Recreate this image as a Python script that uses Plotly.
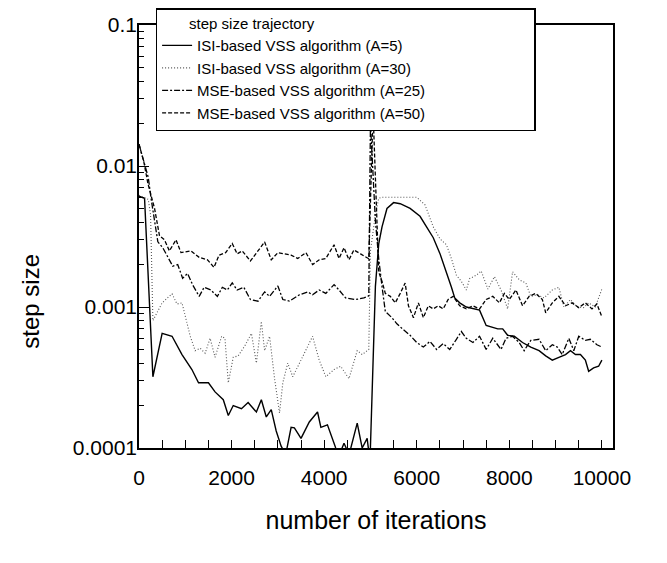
import plotly.graph_objects as go

# ---------------- data ----------------
isi5_x = [0, 120, 300, 500, 714, 929, 1143, 1286, 1500, 1643, 1821, 1929, 2036, 2214, 2357,
          2536, 2643, 2750, 2857, 2964, 3071, 3170, 3286, 3357, 3500, 3679, 3857, 3929, 4071,
          4250, 4330, 4429, 4540, 4714, 4821, 4929, 4990, 5107, 5179, 5250, 5357, 5500, 5643,
          5857, 6071, 6214, 6357, 6500, 6643, 6750, 6821, 6929, 7071, 7214, 7357, 7500, 7643,
          7750, 7857, 7964, 8107, 8286, 8464, 8643, 8786, 8929, 9071, 9214, 9321, 9429, 9536,
          9643, 9714, 9821, 9929, 10000]
isi5_y = [0.0061, 0.0059, 0.00032, 0.00065, 0.00062, 0.00046, 0.00036, 0.00029, 0.00029, 0.00025,
          0.00022, 0.00017, 0.0002, 0.00019, 0.00021, 0.00018, 0.00022, 0.000166, 0.000187,
          0.000132, 0.000103, 0.00009, 0.00014, 0.000139, 0.000117, 0.000153, 0.00018, 0.00014,
          0.000146, 0.0001, 0.00009, 0.000108, 0.00009, 0.00015, 0.0001, 0.000117, 0.00008,
          0.0014, 0.0028, 0.0037, 0.005, 0.0055, 0.0054, 0.005, 0.0044, 0.0037, 0.0031, 0.0024,
          0.00177, 0.00138, 0.00116, 0.00107, 0.001, 0.00097, 0.00095, 0.00074, 0.00072, 0.0007,
          0.0007, 0.00063, 0.00062, 0.00056, 0.00052, 0.00049, 0.00045, 0.00042, 0.00044,
          0.00046, 0.00049, 0.00046, 0.00046, 0.00042, 0.00035, 0.00037, 0.00038, 0.00042]

isi30_x = [0, 200, 250, 280, 300, 500, 714, 821, 929, 1107, 1214, 1321, 1429, 1536, 1643, 1786,
           1857, 1929, 2036, 2143, 2286, 2429, 2536, 2643, 2714, 2821, 2929, 3036, 3107, 3214,
           3321, 3500, 3643, 3750, 3893, 4036, 4214, 4357, 4536, 4714, 4821, 4929, 4964, 5000,
           5107, 5179, 5250, 6000, 6179, 6357, 6500, 6643, 6750, 6857, 6964, 7071, 7143, 7286,
           7393, 7536, 7679, 7821, 7964, 8071, 8214, 8357, 8464, 8607, 8750, 8929, 9071, 9179,
           9321, 9464, 9607, 9714, 9857, 10000]
isi30_y = [0.0062, 0.0058, 0.0045, 0.0019, 0.0008, 0.00107, 0.00124, 0.00105, 0.00107, 0.00062,
           0.00049, 0.00051, 0.00047, 0.0006, 0.00044, 0.00062, 0.0006, 0.00029, 0.00044, 0.00045,
           0.00053, 0.00065, 0.0004, 0.00079, 0.00049, 0.00062, 0.00031, 0.000177, 0.00029,
           0.0004, 0.00032, 0.00042, 0.00053, 0.00062, 0.00042, 0.00032, 0.00036, 0.00038,
           0.00031, 0.00049, 0.00046, 0.00049, 0.0005, 0.0025, 0.0045, 0.0059, 0.006, 0.006,
           0.0053, 0.0037, 0.00305, 0.00276, 0.0022, 0.00168, 0.00152, 0.00132, 0.00159, 0.00168,
           0.0018, 0.00134, 0.00164, 0.00132, 0.00097, 0.00178, 0.00156, 0.00148, 0.00119,
           0.00122, 0.00116, 0.00132, 0.00138, 0.001, 0.00113, 0.001, 0.00099, 0.00107, 0.001,
           0.00134]

mse25_x = [0, 93, 200, 264, 336, 407, 514, 621, 729, 836, 943, 1050, 1157, 1300, 1407, 1550,
           1693, 1800, 1907, 2014, 2121, 2264, 2407, 2571, 2714, 2821, 3000, 3107, 3250, 3464,
           3643, 3750, 3893, 4036, 4214, 4321, 4464, 4679, 4857, 4964, 5000, 5107, 5179, 5250,
           5321, 5464, 5571, 5714, 5857, 6000, 6143, 6286, 6429, 6571, 6714, 6857, 6964, 7071,
           7214, 7357, 7500, 7643, 7821, 7929, 8071, 8214, 8321, 8464, 8643, 8786, 8929, 9036,
           9143, 9286, 9393, 9500, 9643, 9750, 9893, 10000]
mse25_y = [0.0143, 0.0109, 0.0083, 0.0058, 0.0041, 0.0029, 0.00263, 0.00225, 0.00195, 0.002,
           0.0016, 0.00173, 0.00144, 0.00119, 0.00138, 0.00132, 0.00119, 0.00138, 0.00132,
           0.00148, 0.00132, 0.00138, 0.00113, 0.0011, 0.00128, 0.00119, 0.00141, 0.00113,
           0.0011, 0.00122, 0.00128, 0.00122, 0.00132, 0.00125, 0.00144, 0.00132, 0.00116,
           0.00113, 0.00116, 0.0012, 0.02, 0.0041, 0.0022, 0.0014, 0.00093, 0.00084, 0.00076,
           0.00069, 0.00063, 0.00056, 0.00052, 0.00057, 0.0005, 0.00055, 0.0005, 0.00059,
           0.00067, 0.0006, 0.00056, 0.00062, 0.0005, 0.0006, 0.0005, 0.0006, 0.00062, 0.00056,
           0.00049, 0.00058, 0.00059, 0.00049, 0.00054, 0.00052, 0.00046, 0.0006, 0.00049,
           0.00062, 0.00058, 0.00059, 0.00054, 0.00052]

mse50_x = [0, 107, 193, 336, 443, 550, 657, 800, 907, 1121, 1300, 1479, 1621, 1729, 1871, 2014,
           2121, 2229, 2407, 2571, 2714, 2857, 3000, 3143, 3286, 3429, 3607, 3750, 3893, 4036,
           4214, 4321, 4429, 4536, 4643, 4786, 4929, 4964, 5057, 5179, 5250, 5321, 5429, 5536,
           5643, 5750, 5821, 5929, 6036, 6143, 6250, 6357, 6464, 6571, 6679, 6786, 6929, 7071,
           7214, 7357, 7500, 7643, 7786, 7893, 8000, 8143, 8286, 8429, 8571, 8714, 8786, 8929,
           9071, 9214, 9357, 9500, 9643, 9786, 9893, 10000]
mse50_y = [0.0143, 0.0106, 0.0075, 0.005, 0.0032, 0.003, 0.0025, 0.003, 0.00243, 0.0025,
           0.00225, 0.00216, 0.00191, 0.00233, 0.00243, 0.00282, 0.00238, 0.0025, 0.00212,
           0.0025, 0.00289, 0.00216, 0.00243, 0.00238, 0.00233, 0.00221, 0.00243, 0.002,
           0.00216, 0.00221, 0.00276, 0.00221, 0.00263, 0.00216, 0.00254, 0.00238, 0.00225,
           0.0022, 0.0241, 0.00177, 0.00152, 0.00125, 0.00119, 0.00107, 0.00125, 0.00148,
           0.00102, 0.00084, 0.00107, 0.00084, 0.00102, 0.00097, 0.00102, 0.00097, 0.00113,
           0.00119, 0.00102, 0.00097, 0.00102, 0.00097, 0.00113, 0.00119, 0.00107, 0.00125,
           0.00113, 0.00132, 0.00102, 0.00119, 0.00125, 0.00113, 0.00091, 0.00107, 0.00119,
           0.00102, 0.00107, 0.00099, 0.00107, 0.00097, 0.00105, 0.00085]

names = ["ISI-based VSS algorithm (A=5)", "ISI-based VSS algorithm (A=30)",
         "MSE-based VSS algorithm (A=25)", "MSE-based VSS algorithm (A=50)"]
legend_title = "step size trajectory"
y_title = "step size"
x_title = "number of iterations"
y_tickvals = [0.0001, 0.001, 0.01, 0.1]
y_ticktext = ["0.0001", "0.001", "0.01", "0.1"]
x_tickvals = [0, 2000, 4000, 6000, 8000, 10000]
x_ticktext = ["0", "2000", "4000", "6000", "8000", "10000"]

FONT = "Liberation Sans, Arial, sans-serif"
y_minor = [k * 10.0 ** e for e in (-4, -3, -2) for k in range(2, 10)]
EMSP = "\u2003"
ENSP = "\u2002"

fig = go.Figure()
fig.add_trace(go.Scatter(x=isi5_x, y=isi5_y, mode="lines", name=names[0],
                         line=dict(color="black", width=1.4, dash="solid")))
fig.add_trace(go.Scatter(x=isi30_x, y=isi30_y, mode="lines", name=names[1],
                         line=dict(color="#555555", width=1.1, dash="1px,2px")))
fig.add_trace(go.Scatter(x=mse25_x, y=mse25_y, mode="lines", name=names[2],
                         line=dict(color="black", width=1.3, dash="6px,2px,2px,2px")))
fig.add_trace(go.Scatter(x=mse50_x, y=mse50_y, mode="lines", name=names[3],
                         line=dict(color="black", width=1.3, dash="4px,2px")))

fig.update_layout(
    width=667, height=563,
    margin=dict(l=131, r=62, t=17, b=123, autoexpand=False),
    paper_bgcolor="white", plot_bgcolor="white",
    font=dict(family=FONT, color="black", size=20),
    showlegend=True,
    legend=dict(
        x=0.035, y=1.040, xanchor="left", yanchor="top",
        bordercolor="black", borderwidth=1.5, bgcolor="white",
        font=dict(family=FONT, size=15, color="black"),
        title=dict(text=EMSP * 2 + legend_title + EMSP * 14 + ENSP,
                   font=dict(family=FONT, size=15, color="black")),
        tracegroupgap=0, itemwidth=30,
    ),
    xaxis=dict(
        range=[0, 10240], showline=True, linecolor="black", linewidth=1.5, mirror=True,
        ticks="inside", ticklen=8, tickcolor="black",
        tickvals=x_tickvals, ticktext=x_ticktext, ticklabelstandoff=10,
        minor=dict(dtick=500, tick0=0, ticks="inside", ticklen=8, tickcolor="black"),
        showgrid=False, zeroline=False,
        title=dict(text=x_title, font=dict(size=25), standoff=24),
        tickfont=dict(size=21),
    ),
    yaxis=dict(
        type="log", range=[-4, -1], showline=True, linecolor="black", linewidth=1.5,
        mirror=True, ticks="inside", ticklen=10, tickcolor="black",
        tickvals=y_tickvals, ticktext=y_ticktext, ticklabelstandoff=-4,
        minor=dict(tickmode="array", tickvals=y_minor, ticks="inside", ticklen=5,
                   tickcolor="black"),
        showgrid=False, zeroline=False,
        tickfont=dict(size=21),
    ),
    annotations=[dict(
        text=y_title, xref="paper", yref="paper", x=-0.228, y=0.348,
        xanchor="center", yanchor="middle", textangle=-90, showarrow=False,
        font=dict(family=FONT, size=24, color="black"),
    )],
)

fig.write_html("out.html")
